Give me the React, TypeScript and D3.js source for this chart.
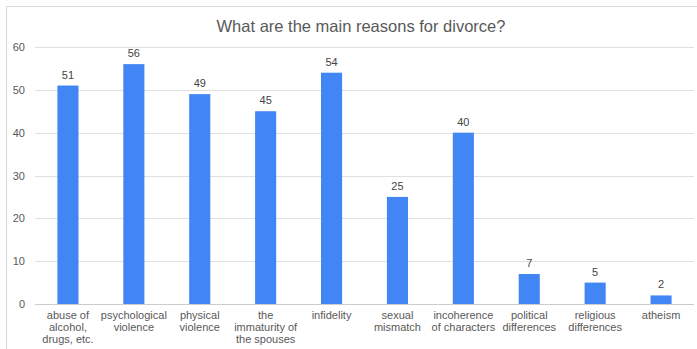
import React from "react";
import * as d3 from "d3";

const categories: string[][] = [
  ["abuse of", "alcohol,", "drugs, etc."],
  ["psychological", "violence"],
  ["physical", "violence"],
  ["the", "immaturity of", "the spouses"],
  ["infidelity"],
  ["sexual", "mismatch"],
  ["incoherence", "of characters"],
  ["political", "differences"],
  ["religious", "differences"],
  ["atheism"],
];
const values: number[] = [51, 56, 49, 45, 54, 25, 40, 7, 5, 2];
const yTicks: number[] = [0, 10, 20, 30, 40, 50, 60];
const title = "What are the main reasons for divorce?";

export default function App() {
  const W = 697, H = 349;
  const left = 35, right = 694, top = 47, bottom = 304;
  const x = d3.scaleBand<number>().domain(values.map((_, i) => i)).range([left, right]).paddingInner(0.68).paddingOuter(0.34);
  const y = d3.scaleLinear().domain([0, 60]).range([bottom, top]);
  const font = "Arial, 'Liberation Sans', sans-serif";
  return (
    <svg width={W} height={H} style={{ position: "absolute", left: 0, top: 0, background: "#fff" }} fontFamily={font}>
      <rect x={6.5} y={6.5} width={700} height={360} fill="#fff" stroke="#d9d9d9" />
      <text x={361} y={31.5} textAnchor="middle" fontSize={16.5} fill="#595959">{title}</text>
      {yTicks.map((t) => (
        <g key={t}>
          <line x1={left} x2={right} y1={Math.round(y(t)) + 0.5} y2={Math.round(y(t)) + 0.5} stroke={t === 0 ? "#cccccc" : "#e0e0e0"} />
          <text x={25} y={y(t) + 4} textAnchor="end" fontSize={11} fill="#595959">{t}</text>
        </g>
      ))}
      {values.map((v, i) => (
        <g key={i}>
          <rect x={x(i)} y={y(v)} width={x.bandwidth()} height={bottom - y(v)} fill="#4285F4" />
          <text x={(x(i) ?? 0) + x.bandwidth() / 2} y={y(v) - 7} textAnchor="middle" fontSize={11} fill="#444">{v}</text>
          {categories[i].map((line, j) => (
            <text key={j} x={(x(i) ?? 0) + x.bandwidth() / 2} y={319 + j * 12} textAnchor="middle" fontSize={11} fill="#595959">{line}</text>
          ))}
        </g>
      ))}
    </svg>
  );
}
